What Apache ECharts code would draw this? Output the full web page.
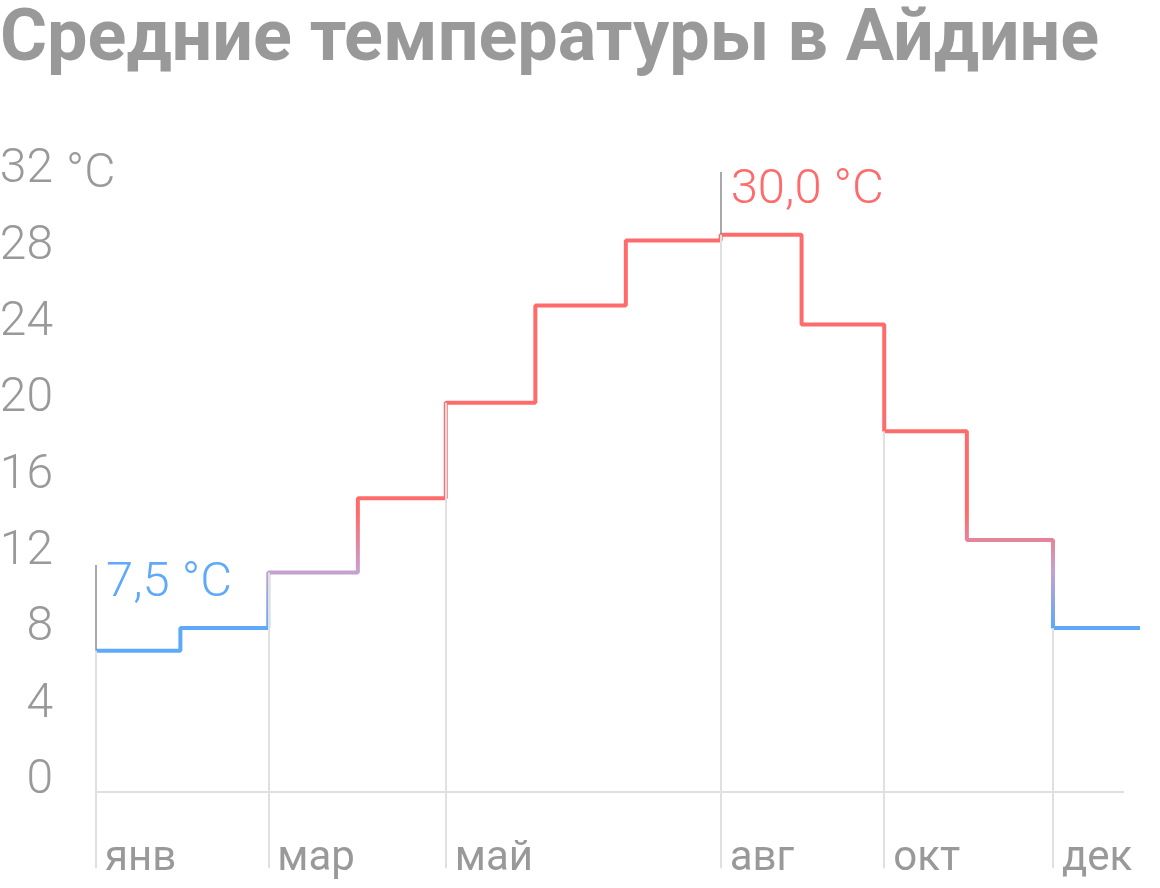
<!DOCTYPE html>
<html>
<head>
<meta charset="utf-8">
<script src="https://cdn.jsdelivr.net/npm/echarts@6/dist/echarts.min.js"></script>
<style>
html, body { margin: 0; padding: 0; background: #fff; }
#mychart { width: 1160px; height: 888px; }
</style>
</head>
<body>
<div id="mychart"></div>
<script>
// 数据
const months = ['янв', 'фев', 'мар', 'апр', 'май', 'июн', 'июл', 'авг', 'сен', 'окт', 'ноя', 'дек'];
// where each month's step begins, in months from the start of the year
const monthStart = [0, 0.97, 1.98, 3.01, 4.02, 5.05, 6.09, 7.18, 8.11, 9.06, 10.01, 11.0];
const yearEnd = 12;
const temps = [7.4, 8.6, 11.5, 15.4, 20.4, 25.5, 28.9, 29.2, 24.5, 18.9, 13.2, 8.6];
const labeledMonths = [0, 2, 4, 7, 9, 11];
const noteMonths = [0, 7];
const noteTexts = ['7,5 °C', '30,0 °C'];
const yMax = 32;
const yUnit = '°C';

const FONT = 'Roboto, "Noto Sans", sans-serif';
const GREY = '#999999';
const BLUE = '#5ea9f9';
const RED = '#ff6b6b';

let myEcharts = echarts.init(document.getElementById('mychart'), null, { renderer: 'canvas' });

let points = monthStart.map((x, i) => [x, temps[i]]);
points.push([yearEnd, temps[temps.length - 1]]);

// light vertical lines under the labelled months
let gridLines = labeledMonths.map(i => [
    { coord: [monthStart[i], temps[i]] },
    { coord: [monthStart[i], -4] }
]);
gridLines.push([{ coord: [0, 0] }, { coord: [11.82, 0] }]);

// callout markers
const noteTop = [11.9, 32.5];
let noteLines = noteMonths.map((m, k) => [
    { coord: [monthStart[m], temps[m]] },
    { coord: [monthStart[m], noteTop[k]] }
]);
let notePoints = noteMonths.map((m, k) => ({
    coord: [monthStart[m], noteTop[k]],
    value: noteTexts[k],
    label: { color: temps[m] > 15 ? RED : BLUE }
}));

let option = {
    animation: false,
    title: {
        text: 'Средние температуры в Айдине',
        left: 0,
        top: 6,
        padding: 0,
        textStyle: { fontFamily: FONT, fontSize: 72, fontWeight: 'bold', color: GREY }
    },
    grid: { left: 96, right: 20, top: 105.1, bottom: 19.7, outerBoundsMode: 'none', containLabel: false },
    visualMap: {
        show: false,
        type: 'continuous',
        seriesIndex: 0,
        dimension: 1,
        min: 8.6,
        max: 14.6,
        inRange: { color: [BLUE, '#c7a1cf', RED] }
    },
    xAxis: {
        type: 'value',
        min: 0,
        max: yearEnd,
        axisLine: { show: false, onZero: false },
        axisTick: { show: false },
        splitLine: { show: false },
        axisLabel: {
            customValues: labeledMonths.map(i => monthStart[i]),
            formatter: v => months[monthStart.indexOf(v)] || '',
            align: 'left',
            verticalAlign: 'bottom',
            padding: [0, 0, 0, 9],
            margin: 12,
            fontFamily: FONT,
            fontSize: 42,
            color: GREY
        }
    },
    yAxis: {
        type: 'value',
        min: -4,
        max: 36,
        interval: 4,
        axisLine: { show: false },
        axisTick: { show: false },
        splitLine: { show: false },
        axisLabel: {
            formatter: v => (v < 0 || v > yMax) ? '' : String(v),
            margin: 43,
            verticalAlign: 'bottom',
            lineHeight: 22,
            fontFamily: FONT,
            fontSize: 48,
            fontWeight: 300,
            color: GREY
        }
    },
    graphic: [{
        type: 'text',
        left: 66,
        top: 151,
        style: { text: yUnit, font: '300 48px ' + FONT, fill: GREY }
    }],
    series: [
        {
            type: 'line',
            step: 'end',
            z: 3,
            symbol: 'none',
            lineStyle: { width: 4 },
            data: points,
            markLine: {
                silent: true,
                symbol: ['none', 'none'],
                label: { show: false },
                lineStyle: { type: 'solid', color: '#8c8c8c', width: 1.5 },
                data: noteLines
            },
            markPoint: {
                silent: true,
                symbol: 'circle',
                symbolSize: 0,
                label: {
                    show: true,
                    position: 'right',
                    distance: 10,
                    offset: [0, 19],
                    formatter: p => p.value,
                    fontFamily: FONT,
                    fontSize: 49,
                    fontWeight: 300
                },
                data: notePoints
            }
        },
        {
            type: 'line',
            z: 1,
            data: [],
            markLine: {
                silent: true,
                symbol: ['none', 'none'],
                label: { show: false },
                lineStyle: { type: 'solid', color: '#e0e0e0', width: 2 },
                data: gridLines
            }
        }
    ]
};

myEcharts.setOption(option);
</script>
</body>
</html>
